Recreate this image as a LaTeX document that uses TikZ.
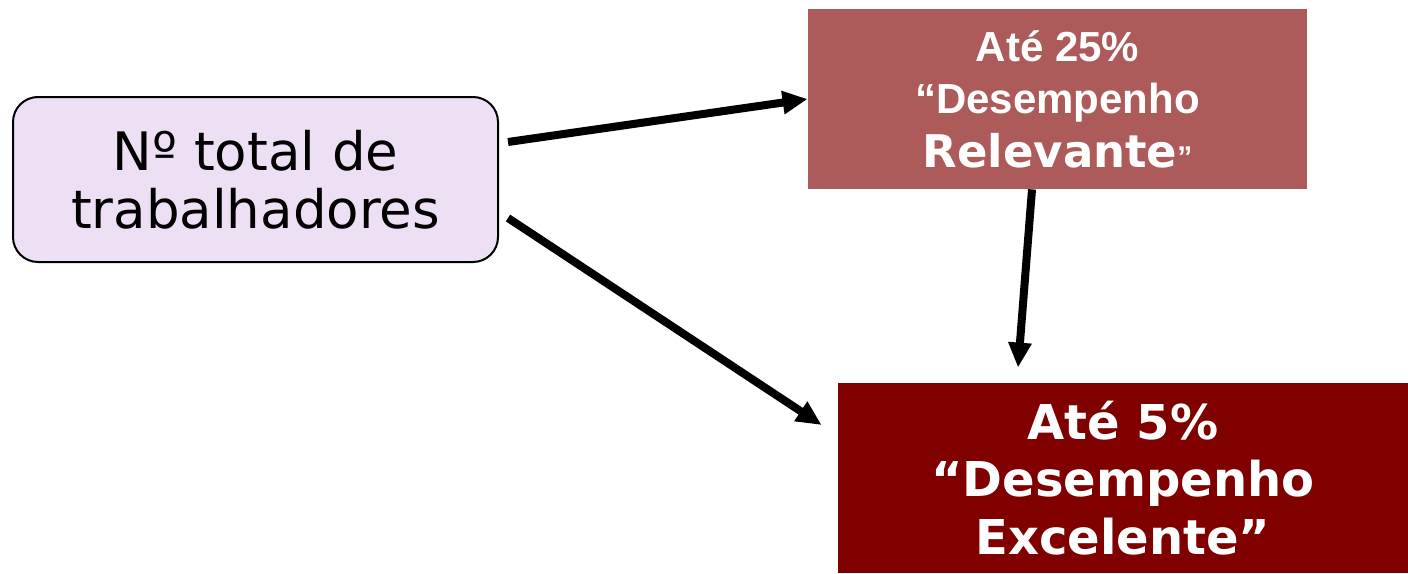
\documentclass[tikz,border=0pt]{standalone}
\usepackage{fontspec}
\setmainfont{DejaVu Sans}
\newfontfamily\arialfont{Liberation Sans}
\usetikzlibrary{arrows.meta,calc}
\definecolor{lilac}{HTML}{EDE0F5}
\definecolor{rosebrown}{HTML}{AC5A5A}
\definecolor{deepmaroon}{HTML}{800000}

\begin{document}
\begin{tikzpicture}[
    x=0.5pt,y=-0.5pt,
    startbox/.style={draw=black, line width=1pt, fill=lilac, rounded corners=12.5pt,
        minimum width=242.5pt, minimum height=82.5pt, inner sep=0pt, align=center,
        font=\fontsize{26.5}{29}\selectfont},
    midbox/.style={fill=rosebrown, text=white, minimum width=249.5pt, minimum height=90pt,
        inner sep=0pt, align=center, font=\arialfont\bfseries\fontsize{21}{26}\selectfont},
    endbox/.style={fill=deepmaroon, text=white, minimum width=285pt, minimum height=95pt,
        inner sep=0pt, align=center, font=\bfseries\fontsize{24}{28.75}\selectfont},
    conn/.style={draw=black, line width=4pt, -{Triangle[length=12.5pt,width=11pt]}}
]
\useasboundingbox (0,0) rectangle (1408,573);

\node[startbox] (total) at (255.5,179.5) {Nº total de\\trabalhadores};
\node[midbox] (relevant) at (1057.5,99) {Até 25\%\\“Desempenho\\[1pt]{\normalfont\bfseries\fontsize{22.5}{26}\selectfont Relevante}{\fontsize{15}{15}\selectfont ”}};
\node[endbox] (excel) at (1123,478) {Até 5\%\\“Desempenho\\Excelente”};

\draw[conn] ($(total.east)+(9,-37.5)$) -- (relevant.west);
\draw[conn] ($(total.east)+(9,38.5)$) -- ($(excel.west)+(-16,-53)$);
\draw[conn] ($(relevant.south)+(-25.5,0)$) -- ($(excel.north)+(-105,-15)$);

\end{tikzpicture}
\end{document}
